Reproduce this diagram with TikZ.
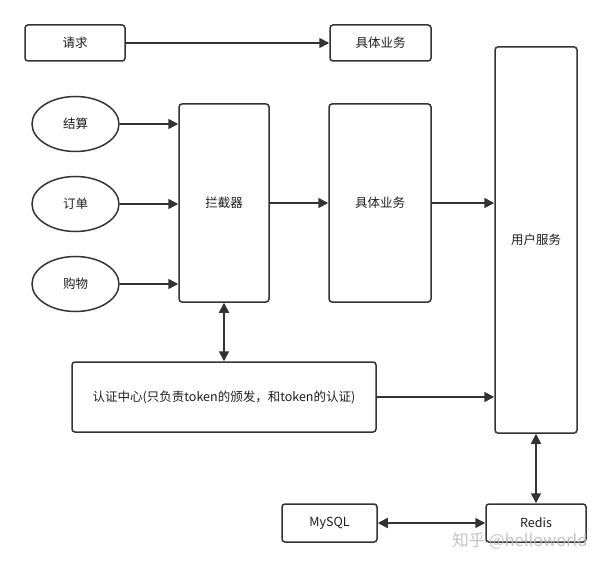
\documentclass[tikz,border=0pt]{standalone}
\usepackage{fontspec}
\setmainfont{Noto Sans CJK SC}
\usepackage{xcolor}
\usepackage{tikz}
\usetikzlibrary{arrows.meta,shapes.geometric}
\definecolor{linegray}{RGB}{51, 51, 51}
\definecolor{textgray}{RGB}{30, 30, 30}
\definecolor{markgray}{RGB}{185, 185, 185}

\begin{document}
\begin{tikzpicture}[x=1pt, y=-1pt,
    box/.style={draw=linegray, line width=1.5pt, rounded corners=3pt, fill=white,
        inner sep=0pt, text=textgray, font=\fontsize{12.5}{15}\selectfont},
    oval/.style={ellipse, draw=linegray, line width=1.5pt, fill=white, inner sep=0pt,
        minimum width=87pt, minimum height=55pt, text=textgray, font=\fontsize{12.5}{15}\selectfont},
    link/.style={draw=linegray, line width=1.5pt, -{Triangle[length=10pt, width=10pt]}},
    twoway/.style={draw=linegray, line width=1.5pt, {Triangle[length=10pt, width=10pt]}-{Triangle[length=10pt, width=10pt]}}]
    % Canvas
    \useasboundingbox (0,0) rectangle (611,567);
    \fill[white] (0,0) rectangle (611,567);

    % Top row: request goes straight to the business
    \node[box, minimum width=100pt, minimum height=36pt] (qingqiu) at (75,43) {请求};
    \node[box, minimum width=101pt, minimum height=36pt] (yewuTop) at (380.5,43) {具体业务};

    % Entry points
    \node[oval] (jiesuan) at (75.5,124) {结算};
    \node[oval] (dingdan) at (75.5,204) {订单};
    \node[oval] (gouwu) at (75.5,284) {购物};

    % Interceptor, business and user service
    \node[box, minimum width=90pt, minimum height=198pt] (lanjie) at (224,203) {拦截器};
    \node[box, minimum width=102pt, minimum height=198pt] (yewu) at (380,203) {具体业务};
    \node[box, minimum width=82pt, minimum height=386pt] (yonghu) at (536,240) {用户服务};

    % Auth centre
    \node[box, minimum width=304pt, minimum height=70pt] (renzheng) at (224,397)
        {认证中心(只负责token的颁发，和token的认证)};

    % Storage
    \node[box, minimum width=95pt, minimum height=38pt] (mysql) at (329.5,523) {MySQL};
    \node[box, minimum width=100pt, minimum height=38pt] (redis) at (536,523) {Redis};

    % Connectors
    \draw[link] (qingqiu) -- (yewuTop);
    \draw[link] (jiesuan) -- (jiesuan -| lanjie.west);
    \draw[link] (dingdan) -- (dingdan -| lanjie.west);
    \draw[link] (gouwu) -- (gouwu -| lanjie.west);
    \draw[link] (lanjie) -- (yewu);
    \draw[link] (yewu) -- (yewu -| yonghu.west);
    \draw[link] (renzheng) -- (renzheng -| yonghu.west);
    \draw[twoway] (lanjie.south) -- (lanjie.south |- renzheng.north);
    \draw[twoway] (yonghu.south) -- (redis.north);
    \draw[twoway] (mysql) -- (redis);

    % Watermark
    \node[text=markgray, opacity=0.85, font=\fontsize{16.5}{18}\selectfont] (watermark) at (520,541) {知乎 @helloworld};
\end{tikzpicture}
\end{document}
